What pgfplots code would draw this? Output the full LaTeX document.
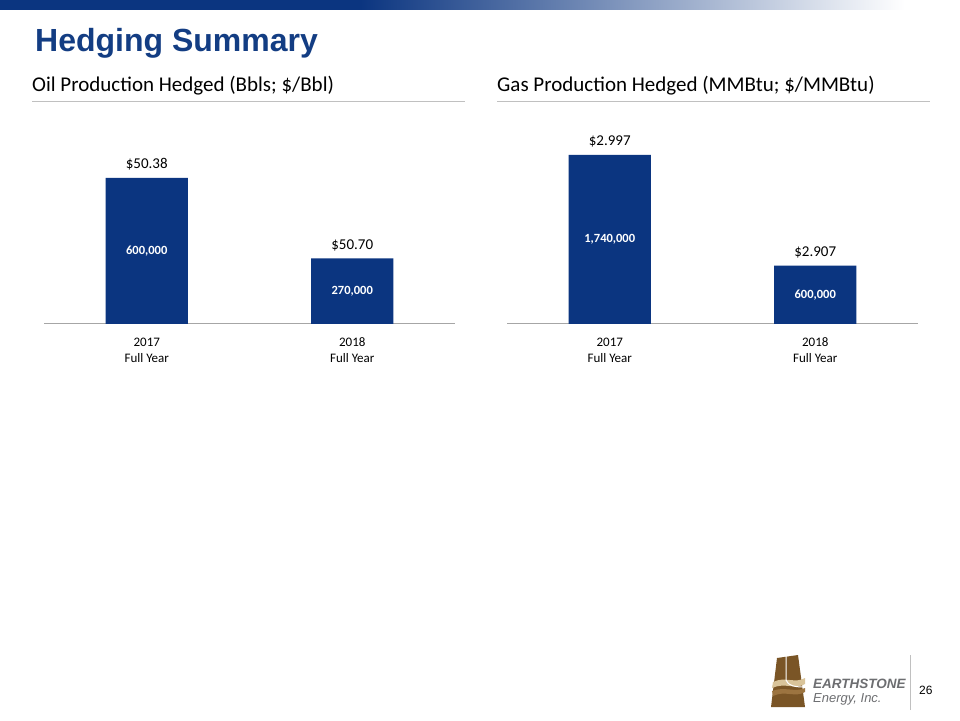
\documentclass[border=0pt]{standalone}
\usepackage{pgfplots}
\pgfplotsset{compat=1.18}
\usepackage{pgfplotstable}
\usepackage{fontspec}
\setmainfont{Carlito}
\newfontfamily\arial{Liberation Sans}
\definecolor{barblue}{HTML}{0B3580}
\definecolor{titleblue}{HTML}{133D83}
\definecolor{rulegray}{HTML}{C0C0C0}
\definecolor{axisgray}{HTML}{A6A6A6}
\definecolor{logotext}{HTML}{6D6E71}
\definecolor{brownA}{HTML}{7A5526}
\definecolor{brownB}{HTML}{9C7440}
\definecolor{beige}{HTML}{D9C49A}

\pgfplotstableread{
x v price vol
0 600000 50.38 600,000
1 270000 50.70 270,000
}\oildata
\pgfplotstableread{
x v price vol
0 1740000 2.997 1,740,000
1 600000 2.907 600,000
}\gasdata

\pgfplotsset{hedge/.style={
  scale only axis, width=411pt, height=200pt,
  xmin=-0.5, xmax=1.5, ymin=0,
  axis x line=bottom, axis y line=none,
  axis line style={-, draw=axisgray, line width=1pt},
  xtick={0,1},
  xticklabels={{\strut 2017\\\strut Full Year},{\strut 2018\\\strut Full Year}},
  major tick length=0pt,
  xticklabel style={align=center, font=\fontsize{13}{16}\selectfont, text=black, yshift=-8pt},
  clip=false,
}}
\pgfplotsset{barstyle/.style={
  ybar, bar width=0.4, bar shift=0pt, fill=barblue, draw=none,
  point meta=explicit symbolic,
  nodes near coords={\$\pgfplotspointmeta},
  every node near coord/.append style={font=\fontsize{15}{18}\selectfont, text=black, anchor=base, inner sep=0pt, yshift=9pt},
}}
\pgfplotsset{volstyle/.style={
  draw=none, mark=none,
  point meta=explicit symbolic,
  nodes near coords={\pgfplotspointmeta},
  every node near coord/.append style={font=\bfseries\fontsize{12.5}{15}\selectfont, text=white, anchor=center, inner sep=0pt},
}}

\begin{document}
\begin{tikzpicture}
\fill[white] (0pt,0pt) rectangle (960pt,720pt);
% header band
\fill[barblue] (0pt,710pt) rectangle (361pt,720pt);
\shade[left color=barblue, right color=white] (360pt,710pt) rectangle (905pt,720pt);
% title
\node[anchor=base west, inner sep=0pt, text=titleblue, font=\arial\bfseries\fontsize{32}{36}\selectfont] at (35pt,668pt) {Hedging Summary};
% subtitles
\node[anchor=base west, inner sep=0pt, font=\fontsize{21}{24}\selectfont] at (32pt,628pt) {Oil Production Hedged (Bbls; \$/Bbl)};
\node[anchor=base west, inner sep=0pt, font=\fontsize{21}{24}\selectfont] at (497pt,628pt) {Gas Production Hedged (MMBtu; \$/MMBtu)};
\draw[rulegray, line width=1pt] (32pt,618pt) -- (465pt,618pt);
\draw[rulegray, line width=1pt] (497pt,618pt) -- (930pt,618pt);

% oil chart
\begin{axis}[hedge, at={(44pt,396pt)}, anchor=south west, ymax=821918]
\addplot[barstyle] table[x=x, y=v, meta=price] {\oildata};
\addplot[volstyle] table[x=x, y expr=\thisrow{v}/2, meta=vol] {\oildata};
\end{axis}

% gas chart
\begin{axis}[hedge, at={(507pt,396pt)}, anchor=south west, ymax=2059172]
\addplot[barstyle] table[x=x, y=v, meta=price] {\gasdata};
\addplot[volstyle] table[x=x, y expr=\thisrow{v}/2, meta=vol] {\gasdata};
\end{axis}

% logo
\begin{scope}[x=1pt,y=1pt]
\fill[brownA] (771,13) -- (777,62) -- (798,65) -- (805,13) -- cycle;
\fill[beige] (772,32) .. controls (785,38) and (795,30) .. (805,36) -- (805,42) .. controls (795,36) and (785,44) .. (773,38) -- cycle;
\fill[brownB] (773,24) .. controls (785,30) and (795,22) .. (805,28) -- (805,32) .. controls (795,27) and (785,34) .. (772,29) -- cycle;
\draw[white, line width=1pt] (786,64) -- (786,40) .. controls (788,34) and (795,33) .. (805,33);
\node[anchor=base west, inner sep=0pt, text=logotext, font=\arial\bfseries\itshape\fontsize{13.5}{15}\selectfont] at (813,32) {EARTHSTONE};
\node[anchor=base west, inner sep=0pt, text=logotext, font=\arial\itshape\fontsize{13}{15}\selectfont] at (813,18) {Energy, Inc.};
\draw[rulegray, line width=1pt] (910,10) -- (910,65);
\node[anchor=base west, inner sep=0pt, font=\arial\fontsize{12}{14}\selectfont] at (919,26) {26};
\end{scope}
\end{tikzpicture}
\end{document}
